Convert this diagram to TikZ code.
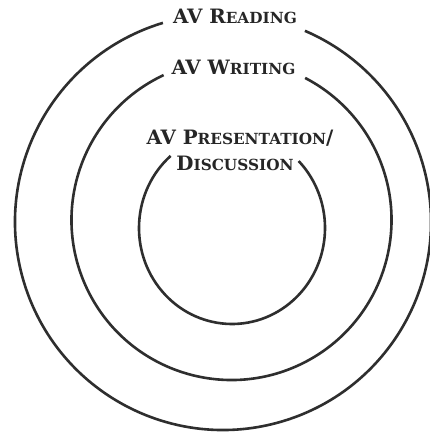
\documentclass[tikz,border=0pt]{standalone}
\usepackage{fontspec}
\setmainfont{DejaVu Serif}
\newcommand\smcp[1]{{\fontsize{15.3}{17}\selectfont #1}}
\begin{document}
\begin{tikzpicture}[x=1pt,y=1pt,
  ring/.style={line width=2.6pt, draw=black!82},
  lbl/.style={font=\bfseries\fontsize{19.8}{22}\selectfont, text=black!85, inner sep=0pt, anchor=base}]
\useasboundingbox (0,0) rectangle (430,432);
\fill[white] (0,0) rectangle (430,432);
\coordinate (co) at (223,210);
\coordinate (cm) at (231.5,212);
\coordinate (ci) at (232,204);
% outer ring
\draw[ring] ([shift={(106.8:208pt)}]co) arc[start angle=106.8, end angle=426.8, radius=208pt];
% middle ring
\draw[ring] ([shift={(115.1:160pt)}]cm) arc[start angle=115.1, end angle=422.6, radius=160pt];
% inner ring
\draw[ring] ([shift={(131.3:93pt and 96pt)}]ci) arc[start angle=131.3, end angle=404.2, x radius=93pt, y radius=96pt];
\node[lbl] (tr) at (235,408) {AV R\smcp{EADING}};
\node[lbl] (tw) at (233.5,357) {AV W\smcp{RITING}};
\node[lbl] (tp) at (240,287) {AV P\smcp{RESENTATION}/};
\node[lbl] (td) at (235,261) {D\smcp{ISCUSSION}};
\end{tikzpicture}
\end{document}
